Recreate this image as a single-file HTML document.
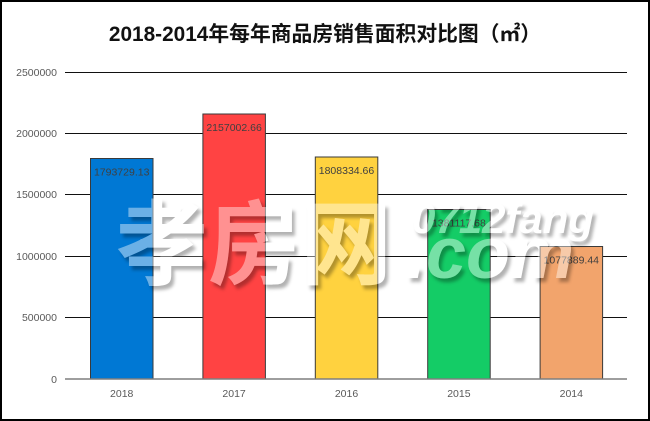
<!DOCTYPE html>
<html><head><meta charset="utf-8"><style>
html,body{margin:0;padding:0;background:#fff;}
svg{display:block;}
</style></head><body>
<svg width="650" height="421" viewBox="0 0 650 421" xmlns="http://www.w3.org/2000/svg">
<defs>
<filter id="bl" x="-10%" y="-10%" width="120%" height="120%"><feGaussianBlur stdDeviation="1.6"/></filter>
<mask id="km" maskUnits="userSpaceOnUse" x="0" y="0" width="650" height="421">
<rect x="0" y="0" width="650" height="421" fill="#fff"/>
<g fill="#000">
<text x="116" y="277" font-family="'Noto Sans CJK SC', sans-serif" font-weight="bold" font-size="92">孝房网</text>
<text x="412" y="233" font-family="'Liberation Sans', sans-serif" font-weight="bold" font-style="italic" font-size="42">0712fang</text>
<text x="406" y="278" font-family="'Liberation Sans', sans-serif" font-weight="bold" font-style="italic" font-size="72">.com</text>
</g>
</mask>
</defs>
<rect x="0" y="0" width="650" height="421" fill="#fff"/>
<text x="325" y="41" text-anchor="middle" font-family="'Liberation Sans','Noto Sans CJK SC',sans-serif" font-weight="bold" font-size="20.8" fill="#111">2018-2014年每年商品房销售面积对比图（㎡）</text>

<g stroke="#111" stroke-width="1">
<line x1="65" y1="72.5" x2="627" y2="72.5"/>
<line x1="65" y1="133.5" x2="627" y2="133.5"/>
<line x1="65" y1="194.5" x2="627" y2="194.5"/>
<line x1="65" y1="256.5" x2="627" y2="256.5"/>
<line x1="65" y1="317.5" x2="627" y2="317.5"/>
</g>

<g font-family="'Liberation Sans',sans-serif" font-size="10.5" fill="#595959" text-anchor="end">
<text x="57" y="76">2500000</text>
<text x="57" y="137">2000000</text>
<text x="57" y="198">1500000</text>
<text x="57" y="260">1000000</text>
<text x="57" y="321">500000</text>
<text x="57" y="383">0</text>
</g>

<g stroke="#3a3a3a" stroke-width="1">
<rect x="90.5" y="158.5" width="62.5" height="220.5" fill="#0078D4"/>
<rect x="202.9" y="114" width="62.5" height="265" fill="#FF4343"/>
<rect x="315.3" y="157" width="62.5" height="222" fill="#FFD23F"/>
<rect x="427.7" y="209.5" width="62.5" height="169.5" fill="#14CC66"/>
<rect x="540.1" y="246.5" width="62.5" height="132.5" fill="#F2A46C"/>
</g>

<line x1="65" y1="379" x2="627" y2="379" stroke="#7f7f7f" stroke-width="1.5"/>

<g font-family="'Liberation Sans',sans-serif" font-size="10.5" fill="#404040" text-anchor="middle">
<text x="121.7" y="175.5">1793729.13</text>
<text x="234.1" y="131">2157002.66</text>
<text x="346.5" y="174">1808334.66</text>
<text x="458.9" y="226.5">1381117.68</text>
<text x="571.3" y="263.5">1077889.44</text>
</g>

<g font-family="'Liberation Sans',sans-serif" font-size="10.5" fill="#595959" text-anchor="middle">
<text x="121.7" y="397">2018</text>
<text x="234.1" y="397">2017</text>
<text x="346.5" y="397">2016</text>
<text x="458.9" y="397">2015</text>
<text x="571.3" y="397">2014</text>
</g>

<g mask="url(#km)">
<g transform="translate(3,4)" filter="url(#bl)" fill="#000" fill-opacity="0.3">
<text x="116" y="277" font-family="'Noto Sans CJK SC', sans-serif" font-weight="bold" font-size="92">孝房网</text>
<text x="412" y="233" font-family="'Liberation Sans', sans-serif" font-weight="bold" font-style="italic" font-size="42">0712fang</text>
<text x="406" y="278" font-family="'Liberation Sans', sans-serif" font-weight="bold" font-style="italic" font-size="72">.com</text>
</g>
</g>
<g fill="#fff" fill-opacity="0.42">
<text x="116" y="277" font-family="'Noto Sans CJK SC', sans-serif" font-weight="bold" font-size="92">孝房网</text>
<text x="412" y="233" font-family="'Liberation Sans', sans-serif" font-weight="bold" font-style="italic" font-size="42">0712fang</text>
<text x="406" y="278" font-family="'Liberation Sans', sans-serif" font-weight="bold" font-style="italic" font-size="72">.com</text>
</g>

<rect x="1" y="1" width="648" height="419" fill="none" stroke="#000" stroke-width="2"/>
</svg>
</body></html>
